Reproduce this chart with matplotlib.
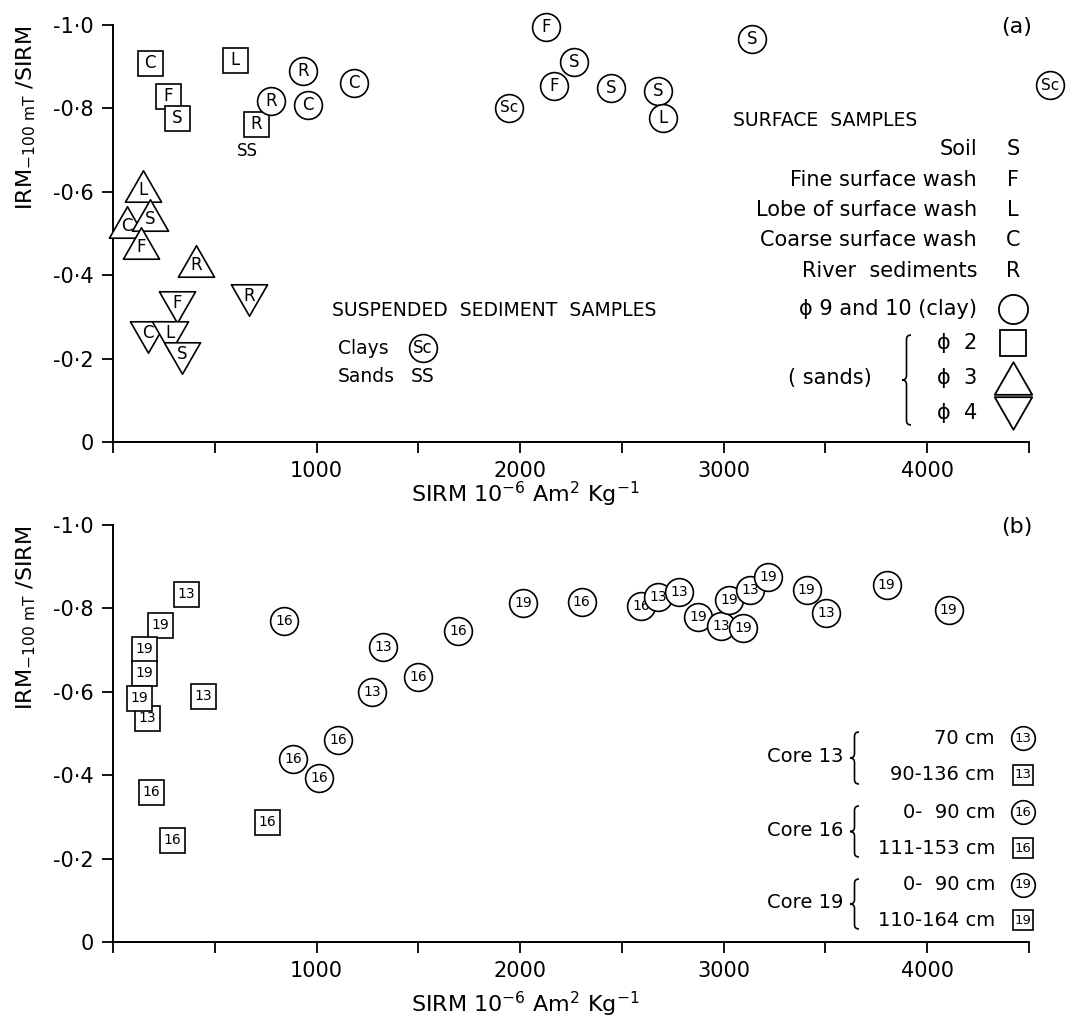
import numpy as np
import matplotlib.pyplot as plt
from matplotlib.path import Path
from matplotlib.patches import PathPatch

W, H = 1071, 1028
plt.rcParams['font.family'] = ['DejaVu Sans']
plt.rcParams['mathtext.fontset'] = 'dejavusans'

# ---------------- panel (a): surface samples ----------------
# phi 9 and 10 (clay) -> circles
a_circ_x = [933, 776, 958, 1184, 2127, 2264, 2166, 1945, 2446, 2677, 2701, 3138, 4602]
a_circ_y = [-0.89, -0.818, -0.808, -0.861, -0.995, -0.911, -0.854, -0.801, -0.849, -0.842, -0.777, -0.966, -0.856]
a_circ_lab = ['R', 'R', 'C', 'C', 'F', 'S', 'F', 'Sc', 'S', 'S', 'L', 'S', 'Sc']
# phi 2 -> squares
a_sq_x = [182, 599, 270, 314, 702]
a_sq_y = [-0.909, -0.916, -0.83, -0.777, -0.762]
a_sq_lab = ['C', 'L', 'F', 'S', 'R']
# phi 3 -> up triangles
a_up_x = [147, 69, 182, 138, 408]
a_up_y = [-0.614, -0.528, -0.544, -0.477, -0.434]
a_up_lab = ['L', 'C', 'S', 'F', 'R']
# phi 4 -> down triangles
a_dn_x = [314, 668, 172, 280, 339]
a_dn_y = [-0.324, -0.34, -0.252, -0.252, -0.201]
a_dn_lab = ['F', 'R', 'C', 'L', 'S']

# ---------------- panel (b): cores ----------------
b_circ_x = [840, 1105, 886, 1012, 1326, 1272, 1498, 1695, 2014, 2303, 2593, 2677, 2780,
            2873, 2986, 3026, 3096, 3129, 3218, 3407, 3505, 3800, 4106]
b_circ_y = [-0.77, -0.484, -0.439, -0.393, -0.707, -0.6, -0.636, -0.746, -0.813, -0.815, -0.806, -0.827, -0.839,
            -0.779, -0.758, -0.82, -0.753, -0.844, -0.875, -0.844, -0.789, -0.856, -0.796]
b_circ_lab = ['16', '16', '16', '16', '13', '13', '16', '16', '19', '16', '16', '13', '13',
              '19', '13', '19', '19', '13', '19', '19', '13', '19', '19']
b_sq_x = [359, 231, 152, 152, 167, 128, 442, 187, 290, 757]
b_sq_y = [-0.835, -0.76, -0.703, -0.645, -0.537, -0.585, -0.59, -0.36, -0.245, -0.288]
b_sq_lab = ['13', '19', '19', '19', '13', '19', '13', '16', '16', '16']

surface_names = ['Soil', 'Fine surface wash', 'Lobe of surface wash', 'Coarse surface wash', 'River  sediments']
surface_codes = ['S', 'F', 'L', 'C', 'R']
core_ranges = ['70 cm', '90-136 cm', '0-  90 cm', '111-153 cm', '0-  90 cm', '110-164 cm']
core_codes = ['13', '13', '16', '16', '19', '19']
core_marks = ['o', 's', 'o', 's', 'o', 's']

xticks = np.arange(0, 4501, 500)
xticklabels = ['', '', '1000', '', '2000', '', '3000', '', '4000', '']
yticks = [0, -0.2, -0.4, -0.6, -0.8, -1.0]
yticklabels = ['0', '-0\u00b72', '-0\u00b74', '-0\u00b76', '-0\u00b78', '-1\u00b70']

TRI_UP = Path([(0, 0.87), (-1, -0.87), (1, -0.87), (0, 0.87)], closed=True)
TRI_DN = Path([(0, -0.87), (-1, 0.87), (1, 0.87), (0, -0.87)], closed=True)
MS = {'o': 20, 's': 18, 'up': 26, 'dn': 26}


def labelled(ax, x, y, lab, kind, z, fs=12, dy=0, ms=None):
    mk = {'o': 'o', 's': 's', 'up': TRI_UP, 'dn': TRI_DN}[kind]
    ax.plot([x], [y], marker=mk, ms=ms or MS[kind], mfc='white', mec='black', mew=1.2,
            ls='none', zorder=z, clip_on=False)
    ax.annotate(lab, (x, y), xytext=(0, dy), textcoords='offset points', ha='center',
                va='center', fontsize=fs, zorder=z + 0.5, annotation_clip=False)


def setup(ax):
    ax.set_xlim(0, 4500)
    ax.set_ylim(0, -1.0)
    for s in ['top', 'right']:
        ax.spines[s].set_visible(False)
    for s in ['left', 'bottom']:
        ax.spines[s].set_linewidth(1.4)
    ax.set_xticks(xticks)
    ax.set_xticklabels(xticklabels, fontsize=15)
    ax.set_yticks(yticks)
    ax.set_yticklabels(yticklabels, fontsize=15)
    ax.tick_params(length=8, width=1.3, direction='out', pad=6)
    ax.patch.set_alpha(0)


def brace(ax, x, y0, y1, w=9):
    ym = (y0 + y1) / 2
    xm = x + w / 2
    verts = [(x + w, y0), (xm, y0), (xm, y0 + w / 2), (xm, ym - w / 2), (xm, ym), (x, ym),
             (xm, ym), (xm, ym + w / 2), (xm, y1 - w / 2), (xm, y1), (x + w, y1)]
    codes = [Path.MOVETO, Path.CURVE3, Path.CURVE3, Path.LINETO, Path.CURVE3, Path.CURVE3,
             Path.CURVE3, Path.CURVE3, Path.LINETO, Path.CURVE3, Path.CURVE3]
    ax.add_patch(PathPatch(Path(verts, codes), fc='none', ec='black', lw=1.2))


fig = plt.figure(figsize=(W / 100, H / 100), dpi=100)
left, width = 113 / W, (1029 - 113) / W
axa = fig.add_axes([left, 1 - 442 / H, width, 417 / H])
axb = fig.add_axes([left, 1 - 942 / H, width, 417 / H])
setup(axa)
setup(axb)

z = 3
for xs, ys, labs, kind, dy in [(a_sq_x, a_sq_y, a_sq_lab, 's', 0),
                               (a_circ_x, a_circ_y, a_circ_lab, 'o', 0),
                               (a_up_x, a_up_y, a_up_lab, 'up', -3),
                               (a_dn_x, a_dn_y, a_dn_lab, 'dn', 3)]:
    for x, y, lab in zip(xs, ys, labs):
        labelled(axa, x, y, lab, kind, z, fs=11 if lab == 'Sc' else 12, dy=dy)
        z += 1
# sands of suspended sediment
axa.annotate('SS', (a_sq_x[4], a_sq_y[4]), xytext=(-6, -19), textcoords='offset points',
             ha='center', va='center', fontsize=12)

for xs, ys, labs, kind in [(b_sq_x, b_sq_y, b_sq_lab, 's'),
                           (b_circ_x, b_circ_y, b_circ_lab, 'o')]:
    for x, y, lab in zip(xs, ys, labs):
        labelled(axb, x, y, lab, kind, z, fs=10)
        z += 1

# overlay in pixel coordinates for labels and keys
ov = fig.add_axes([0, 0, 1, 1], zorder=10)
ov.set_xlim(0, W)
ov.set_ylim(H, 0)
ov.axis('off')
ov.patch.set_visible(False)

xlab = r'SIRM 10$^{-6}$ Am$^{2}$ Kg$^{-1}$'
ylab = r'IRM$_{-100\ \mathrm{mT}}$ /SIRM'
for yoff, xly in [(0, 494), (500, 1004)]:
    ov.text(525, xly, xlab, ha='center', va='center', fontsize=16)
    ov.text(26, 118 + yoff, ylab, ha='center', va='center', rotation=90, fontsize=16)
ov.text(1017, 27, '(a)', ha='center', va='center', fontsize=16)
ov.text(1017, 527, '(b)', ha='center', va='center', fontsize=16)

# key for panel (a)
ov.text(733, 120, 'SURFACE  SAMPLES', ha='left', va='center', fontsize=13.5)
for i, (nm, cd) in enumerate(zip(surface_names, surface_codes)):
    yy = 149 + i * 30.5
    ov.text(977, yy, nm, ha='right', va='center', fontsize=15)
    ov.text(1013, yy, cd, ha='center', va='center', fontsize=15)
ov.text(977, 309, '\u03d5 9 and 10 (clay)', ha='right', va='center', fontsize=15)
ov.plot([1013], [309], marker='o', ms=21, mfc='white', mec='black', mew=1.3)
for yy, lab, mk, ms in [(343, '\u03d5  2', 's', 19), (378, '\u03d5  3', TRI_UP, 27), (413, '\u03d5  4', TRI_DN, 27)]:
    ov.text(977, yy, lab, ha='right', va='center', fontsize=15)
    ov.plot([1013], [yy], marker=mk, ms=ms, mfc='white', mec='black', mew=1.3)
ov.text(830, 378, '( sands)', ha='center', va='center', fontsize=15)
brace(ov, 902, 335, 425)

ov.text(332, 310, 'SUSPENDED  SEDIMENT  SAMPLES', ha='left', va='center', fontsize=13.5)
ov.text(338, 348, 'Clays', ha='left', va='center', fontsize=13.5)
ov.text(338, 377, 'Sands', ha='left', va='center', fontsize=13.5)
ov.plot([423], [348], marker='o', ms=20, mfc='white', mec='black', mew=1.2)
ov.text(423, 348, 'Sc', ha='center', va='center', fontsize=12)
ov.text(423, 377, 'SS', ha='center', va='center', fontsize=13.5)

# key for panel (b)
rows_y = [738, 775, 812, 848, 885, 920]
for yy, rng, cd, mk in zip(rows_y, core_ranges, core_codes, core_marks):
    ov.text(995, yy, rng, ha='right', va='center', fontsize=14)
    ov.plot([1023], [yy], marker=mk, ms=17 if mk == 'o' else 15, mfc='white', mec='black', mew=1.2)
    ov.text(1023, yy, cd, ha='center', va='center', fontsize=9.5)
for i, cd in enumerate(['13', '16', '19']):
    ym = (rows_y[2 * i] + rows_y[2 * i + 1]) / 2
    ov.text(843, ym, 'Core ' + cd, ha='right', va='center', fontsize=14)
    brace(ov, 850, rows_y[2 * i] - 6, rows_y[2 * i + 1] + 9)

fig.savefig('out.png', dpi=100, facecolor='white')
